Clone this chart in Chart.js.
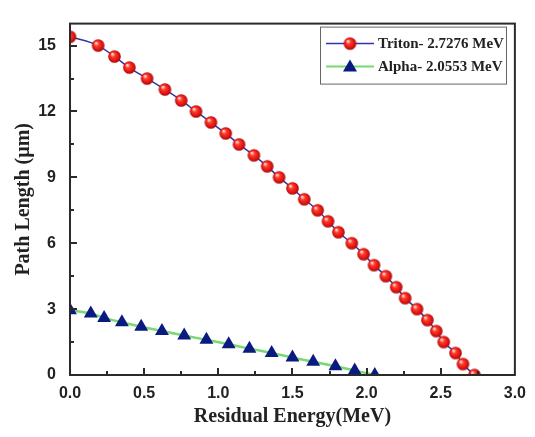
<!DOCTYPE html>
<html>
<head>
<meta charset="utf-8">
<script src="https://cdn.jsdelivr.net/npm/chart.js@4.4.0/dist/chart.umd.min.js"></script>
<style>
  html, body { margin: 0; padding: 0; background: #fff; }
  #wrap { width: 535px; height: 437px; }
</style>
</head>
<body>
<div id="wrap"><canvas id="chart" width="535" height="437"></canvas></div>
<script>
// ----------- Data -----------
const tritonEnergy = [0, 0.19, 0.30, 0.40, 0.52, 0.64, 0.75, 0.85, 0.95, 1.05,
  1.14, 1.24, 1.33, 1.41, 1.50, 1.58, 1.67, 1.74, 1.81, 1.90,
  1.98, 2.05, 2.13, 2.20, 2.26, 2.34, 2.41, 2.47, 2.52, 2.60,
  2.65, 2.7276];
const tritonPath = [15.4, 15, 14.5, 14, 13.5, 13, 12.5, 12, 11.5, 11,
  10.5, 10, 9.5, 9, 8.5, 8, 7.5, 7, 6.5, 6,
  5.5, 5, 4.5, 4, 3.5, 3, 2.5, 2, 1.5, 1,
  0.5, 0];
const alphaEnergy = [0, 0.14, 0.23, 0.35, 0.48, 0.62, 0.77, 0.92, 1.07, 1.21,
  1.36, 1.50, 1.64, 1.79, 1.92, 2.0553];
const alphaPath = [2.95, 2.8, 2.6, 2.4, 2.2, 2.0, 1.8, 1.6, 1.4, 1.2,
  1.0, 0.8, 0.6, 0.4, 0.2, 0];
const xMajorTicks = [0, 0.5, 1, 1.5, 2, 2.5, 3];
const yMajorTicks = [0, 3, 6, 9, 12, 15];
const legendLabels = ['Triton- 2.7276 MeV', 'Alpha- 2.0553 MeV'];

const tritonLine = '#2e36a8';
const alphaLine = '#78d872';
const triangleFill = '#0b1a80';
const frameColor = '#2a2a2a';
const textColor = '#222';

// ----------- Red ball marker -----------
const makeBall = (r) => {
  const c = document.createElement('canvas');
  const s = Math.ceil(r * 2 + 2);
  c.width = s; c.height = s;
  const g = c.getContext('2d');
  const cx = s / 2, cy = s / 2;
  const grad = g.createRadialGradient(cx - r * 0.35, cy - r * 0.4, r * 0.1, cx, cy, r);
  grad.addColorStop(0, '#ffd8cc');
  grad.addColorStop(0.3, '#ff3b2b');
  grad.addColorStop(0.75, '#e01212');
  grad.addColorStop(1, '#a00a0a');
  g.beginPath();
  g.arc(cx, cy, r, 0, Math.PI * 2);
  g.fillStyle = grad;
  g.fill();
  return c;
};
const ball = makeBall(6.3);

const isMajor = (v, list) => list.some(m => Math.abs(m - v) < 1e-6);

// ----------- Frame, inward ticks and legend -----------
const framePlugin = {
  id: 'frame',
  afterDatasetsDraw(chart) {
    const { ctx, chartArea: a, scales } = chart;
    ctx.save();
    ctx.strokeStyle = frameColor;
    ctx.lineWidth = 2;
    ctx.beginPath();
    scales.x.ticks.forEach(t => {
      if (t.value <= 0 || t.value >= 3) return;
      const px = Math.round(scales.x.getPixelForValue(t.value));
      const len = isMajor(t.value, xMajorTicks) ? 7 : 4;
      ctx.moveTo(px, a.bottom);
      ctx.lineTo(px, a.bottom - len);
    });
    scales.y.ticks.forEach(t => {
      if (t.value <= 0 || Math.abs(t.value / 1.5 - Math.round(t.value / 1.5)) > 1e-6) return;
      const py = Math.round(scales.y.getPixelForValue(t.value));
      const len = isMajor(t.value, yMajorTicks) ? 7 : 4;
      ctx.moveTo(a.left, py);
      ctx.lineTo(a.left + len, py);
    });
    ctx.stroke();
    ctx.strokeRect(a.left, a.top, a.right - a.left, a.bottom - a.top);

    // legend box
    const bx = a.left + 250, by = a.top + 3, bw = 186, bh = 57;
    ctx.fillStyle = '#fff';
    ctx.fillRect(bx, by, bw, bh);
    ctx.strokeStyle = '#666';
    ctx.lineWidth = 1;
    ctx.strokeRect(bx + 0.5, by + 0.5, bw, bh);
    ctx.font = 'bold 15px "Liberation Serif"';
    ctx.textBaseline = 'middle';
    ctx.fillStyle = textColor;
    const rows = [by + 17, by + 40];
    // triton row
    ctx.strokeStyle = tritonLine;
    ctx.lineWidth = 1.5;
    ctx.beginPath();
    ctx.moveTo(bx + 6, rows[0]); ctx.lineTo(bx + 54, rows[0]);
    ctx.stroke();
    ctx.drawImage(ball, bx + 30 - ball.width / 2, rows[0] - ball.height / 2);
    ctx.fillText(legendLabels[0], bx + 58, rows[0] + 1);
    // alpha row
    ctx.strokeStyle = alphaLine;
    ctx.lineWidth = 2;
    ctx.beginPath();
    ctx.moveTo(bx + 6, rows[1]); ctx.lineTo(bx + 54, rows[1]);
    ctx.stroke();
    ctx.fillStyle = triangleFill;
    ctx.beginPath();
    ctx.moveTo(bx + 30, rows[1] - 7);
    ctx.lineTo(bx + 37, rows[1] + 5);
    ctx.lineTo(bx + 23, rows[1] + 5);
    ctx.closePath();
    ctx.fill();
    ctx.fillStyle = textColor;
    ctx.fillText(legendLabels[1], bx + 58, rows[1] + 1);
    ctx.restore();
  }
};

// ----------- Chart -----------
new Chart(document.getElementById('chart').getContext('2d'), {
  type: 'scatter',
  data: {
    datasets: [{
      label: legendLabels[0],
      data: tritonEnergy.map((e, i) => ({ x: e, y: tritonPath[i] })),
      showLine: true,
      borderColor: tritonLine,
      borderWidth: 1.5,
      cubicInterpolationMode: 'monotone',
      pointStyle: ball,
      pointRadius: 6.3,
      clip: 0
    }, {
      label: legendLabels[1],
      data: alphaEnergy.map((e, i) => ({ x: e, y: alphaPath[i] })),
      showLine: true,
      borderColor: alphaLine,
      borderWidth: 2.5,
      cubicInterpolationMode: 'monotone',
      pointStyle: 'triangle',
      pointRadius: 8,
      pointBackgroundColor: triangleFill,
      pointBorderColor: triangleFill,
      pointBorderWidth: 0,
      clip: 0
    }]
  },
  options: {
    responsive: false,
    animation: false,
    layout: { padding: { top: 11, right: 12, left: 0, bottom: 0 } },
    plugins: {
      legend: { display: false },
      tooltip: { enabled: false }
    },
    scales: {
      x: {
        type: 'linear',
        min: 0,
        max: 3,
        grid: { display: false, drawTicks: false },
        border: { display: false },
        afterFit: s => { s.height = 62; },
        ticks: {
          stepSize: 0.25,
          padding: 9,
          color: textColor,
          font: { family: '"Liberation Sans"', size: 16, weight: 'bold' },
          autoSkip: false,
          maxRotation: 0,
          callback: v => isMajor(v, xMajorTicks) ? v.toFixed(1) : ''
        },
        title: {
          display: true,
          text: 'Residual Energy(MeV)',
          color: textColor,
          font: { family: '"Liberation Serif"', size: 20, weight: 'bold' },
          padding: { top: 0, bottom: 8 }
        }
      },
      y: {
        type: 'linear',
        min: 0,
        max: 16,
        grid: { display: false, drawTicks: false },
        border: { display: false },
        afterFit: s => { s.width = 70; },
        ticks: {
          stepSize: 1.5,
          padding: 14,
          color: textColor,
          font: { family: '"Liberation Sans"', size: 16, weight: 'bold' },
          autoSkip: false,
          callback: v => isMajor(v, yMajorTicks) ? String(v) : ''
        },
        title: {
          display: true,
          text: 'Path Length (µm)',
          color: textColor,
          font: { family: '"Liberation Serif"', size: 20, weight: 'bold' },
          padding: { top: 12, bottom: 0 }
        }
      }
    }
  },
  plugins: [framePlugin]
});
</script>
</body>
</html>
